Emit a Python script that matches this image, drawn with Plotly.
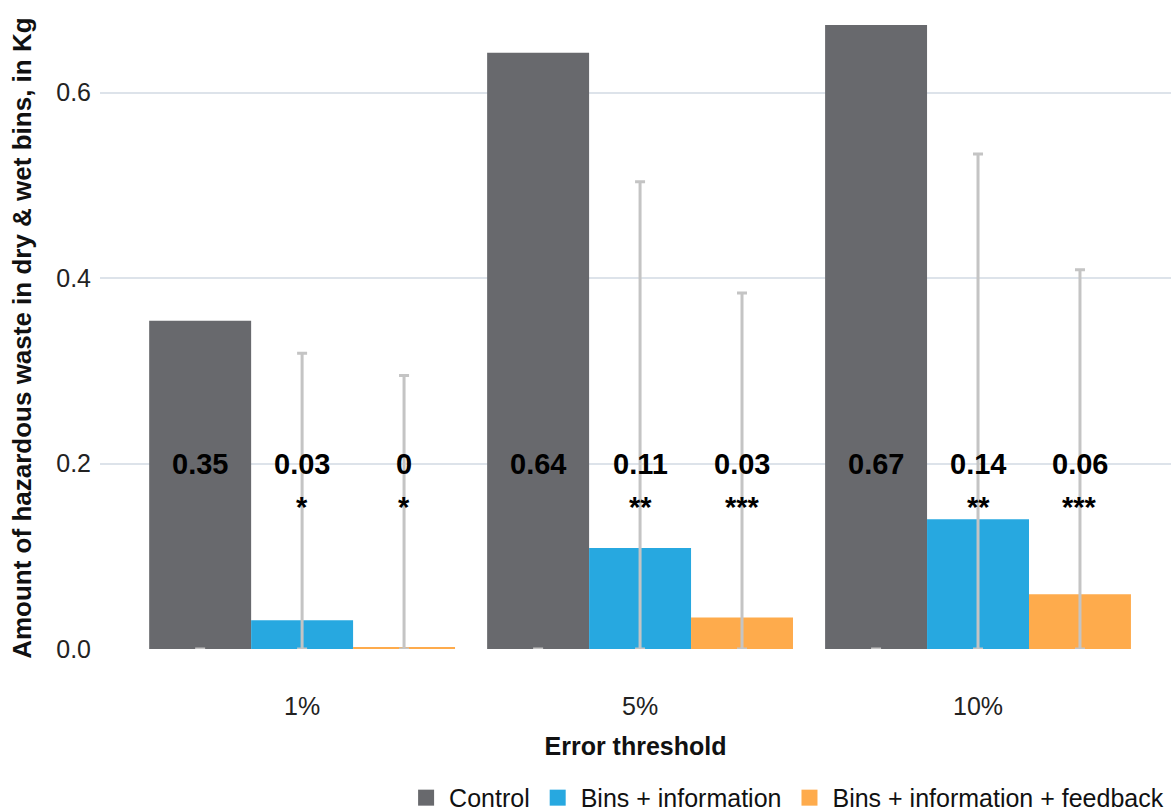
import plotly.graph_objects as go

# Error threshold categories
categories = ["1%", "5%", "10%"]

# Mean amount of hazardous waste (kg) per treatment
control = [0.354, 0.643, 0.673]
bins_info = [0.031, 0.109, 0.140]
bins_info_feedback = [0.0015, 0.034, 0.059]

# Interval bounds drawn as whiskers (control has none)
control_lo = [0.0, 0.0, 0.0]
control_hi = [0.0, 0.0, 0.0]
bins_info_lo = [0.0, 0.0, 0.0]
bins_info_hi = [0.319, 0.504, 0.534]
bins_info_feedback_lo = [0.0, 0.0, 0.0]
bins_info_feedback_hi = [0.295, 0.384, 0.409]

# Significance markers
control_stars = ["", "", ""]
bins_info_stars = ["*", "**", "**"]
bins_info_feedback_stars = ["*", "***", "***"]

series = [
    ("Control", control, control_lo, control_hi, control_stars, "#68696d"),
    ("Bins + information", bins_info, bins_info_lo, bins_info_hi, bins_info_stars, "#27a8e0"),
    ("Bins + information + feedback", bins_info_feedback, bins_info_feedback_lo,
     bins_info_feedback_hi, bins_info_feedback_stars, "#feab4c"),
]

FONT = "Arial, Liberation Sans, sans-serif"
BARGAP = 0.095
LABEL_Y = 0.2
WHISKER = "#c4c4c4"

fig = go.Figure()

for i, (name, vals, lo, hi, stars, color) in enumerate(series):
    fig.add_trace(go.Bar(
        x=categories, y=vals, name=name, offsetgroup=str(i),
        marker=dict(color=color, line=dict(width=0)),
        showlegend=False, hoverinfo="skip",
    ))

# whiskers: transparent bars at the lower bound carrying the interval
for i, (name, vals, lo, hi, stars, color) in enumerate(series):
    fig.add_trace(go.Bar(
        x=categories, y=lo, offsetgroup=str(i), showlegend=False,
        marker=dict(color="rgba(0,0,0,0)", line=dict(width=0)),
        error_y=dict(type="data", symmetric=False,
                     array=[h - l for h, l in zip(hi, lo)],
                     arrayminus=[0] * len(lo),
                     color=WHISKER, thickness=3, width=5),
        hoverinfo="skip",
    ))

# legend entries with larger square swatches
for name, vals, lo, hi, stars, color in series:
    fig.add_trace(go.Scatter(
        x=[None], y=[None], mode="markers", name=name,
        marker=dict(symbol="square", size=16, color=color),
        hoverinfo="skip",
    ))

bar_w = (1 - BARGAP) / len(series)
annotations = []
for i, (name, vals, lo, hi, stars, color) in enumerate(series):
    off = (i - (len(series) - 1) / 2) * bar_w
    for j, v in enumerate(vals):
        annotations.append(dict(
            x=j + off, y=LABEL_Y, xref="x", yref="y",
            text=f"<b>{round(v, 2):g}</b>", showarrow=False,
            font=dict(family=FONT, size=29, color="#000000"),
            xanchor="center", yanchor="middle",
        ))
        if stars[j]:
            annotations.append(dict(
                x=j + off, y=LABEL_Y, xref="x", yref="y",
                text=f"<b>{stars[j]}</b>", showarrow=False, yshift=-43,
                font=dict(family=FONT, size=29, color="#000000"),
                xanchor="center", yanchor="middle",
            ))

# y-axis title
annotations.append(dict(
    x=-0.0728, y=0.478, xref="paper", yref="paper",
    text="<b>Amount of hazardous waste in dry & wet bins, in Kg</b>",
    textangle=-90, showarrow=False, xanchor="center", yanchor="middle",
    font=dict(family=FONT, size=26, color="#111111"),
))

fig.update_layout(
    width=1171, height=811,
    margin=dict(l=100, r=0, t=0, b=162, autoexpand=False),
    paper_bgcolor="white", plot_bgcolor="white",
    barmode="group", bargap=BARGAP, bargroupgap=0,
    font=dict(family=FONT, size=25, color="#222222"),
    annotations=annotations,
    legend=dict(orientation="h", x=0.283, xanchor="left", y=-0.194, yanchor="top",
                itemwidth=36,
                font=dict(family=FONT, size=25, color="#111111"),
                itemclick=False, itemdoubleclick=False, tracegroupgap=0),
    xaxis=dict(
        type="category", range=[-0.598, 2.571],
        showgrid=False, showline=False, zeroline=False, ticks="",
        ticklabelstandoff=40,
        tickfont=dict(family=FONT, size=25, color="#222222"),
        title=dict(text="<b>Error threshold</b>", standoff=18,
                   font=dict(family=FONT, size=25, color="#111111")),
    ),
    yaxis=dict(
        range=[0, 0.7], tickvals=[0, 0.2, 0.4, 0.6], tickformat=".1f",
        showgrid=True, gridcolor="#dde3ea", gridwidth=2,
        zeroline=False, showline=False, ticks="",
        ticklabelstandoff=8,
        tickfont=dict(family=FONT, size=25, color="#222222"),
    ),
)

fig.write_html("out.html")
